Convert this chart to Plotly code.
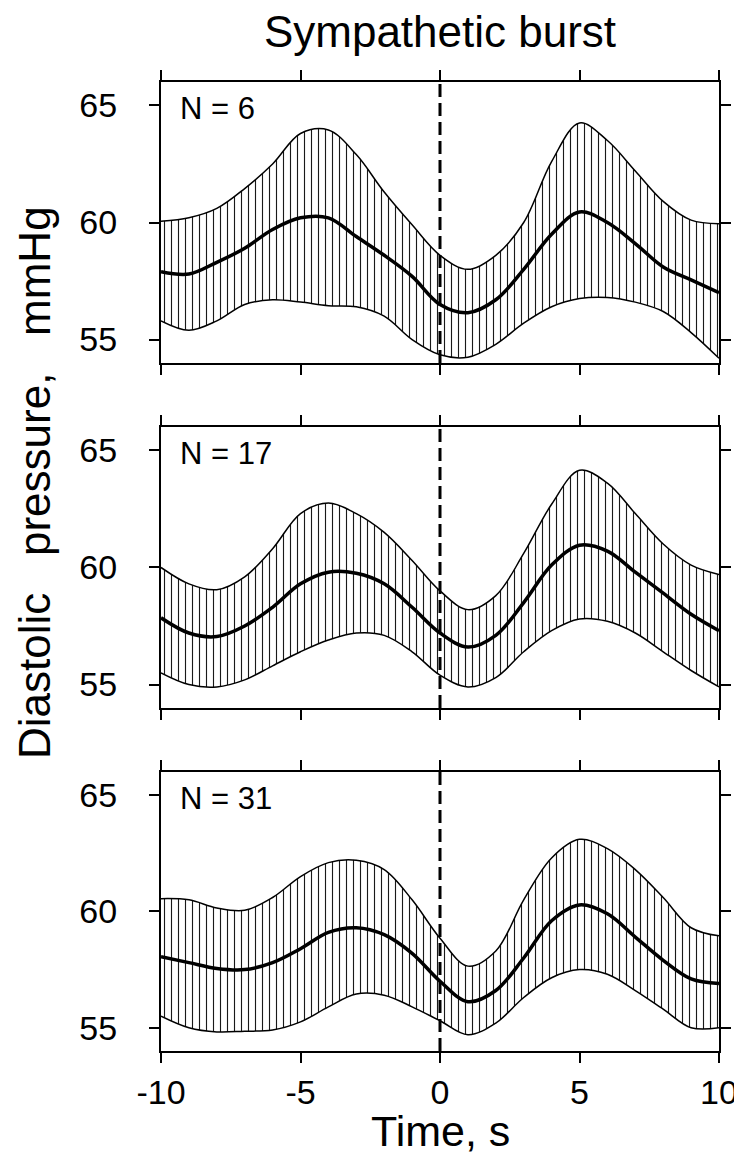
import plotly.graph_objects as go
from plotly.subplots import make_subplots

# ---- data ----
time_s = [-10, -9, -8, -7, -6, -5, -4, -3, -2, -1, 0, 1, 2, 3, 4, 5, 6, 7, 8, 9, 10]

n_labels = ["N = 6", "N = 17", "N = 31"]

mean_p1 = [57.9, 57.8, 58.3, 58.9, 59.7, 60.2, 60.2, 59.4, 58.6, 57.7, 56.5, 56.15, 56.7, 58.0, 59.5, 60.45, 60.0, 59.1, 58.1, 57.55, 57.0]
upper_p1 = [60.05, 60.2, 60.6, 61.45, 62.5, 63.8, 63.95, 62.9, 61.3, 59.9, 58.6, 58.0, 58.6, 60.0, 62.6, 64.25, 63.5, 62.2, 60.9, 60.1, 59.95]
lower_p1 = [55.8, 55.4, 55.8, 56.5, 56.7, 56.6, 56.45, 56.4, 56.0, 55.0, 54.35, 54.25, 54.8, 55.7, 56.4, 56.75, 56.8, 56.6, 56.2, 55.3, 54.2]

mean_p2 = [57.85, 57.2, 57.05, 57.5, 58.3, 59.3, 59.8, 59.75, 59.3, 58.3, 57.2, 56.6, 57.1, 58.5, 60.1, 60.95, 60.7, 59.8, 58.9, 58.0, 57.3]
upper_p2 = [60.0, 59.3, 59.05, 59.6, 60.8, 62.3, 62.75, 62.3, 61.5, 60.3, 59.0, 58.2, 58.8, 60.6, 62.7, 64.15, 63.6, 62.3, 61.0, 60.1, 59.7]
lower_p2 = [55.5, 55.0, 54.9, 55.2, 55.8, 56.4, 56.9, 57.2, 57.1, 56.4, 55.4, 54.9, 55.3, 56.4, 57.3, 57.8, 57.7, 57.2, 56.4, 55.6, 54.9]

mean_p3 = [58.05, 57.8, 57.55, 57.5, 57.8, 58.4, 59.1, 59.3, 59.0, 58.2, 57.0, 56.12, 56.6, 58.0, 59.6, 60.28, 59.9, 58.9, 57.9, 57.1, 56.9]
upper_p3 = [60.55, 60.5, 60.15, 60.05, 60.6, 61.5, 62.1, 62.2, 61.8, 60.5, 58.85, 57.65, 58.3, 60.5, 62.3, 63.1, 62.7, 61.8, 60.6, 59.3, 58.95]
lower_p3 = [55.5, 55.0, 54.82, 54.85, 54.9, 55.25, 55.9, 56.45, 56.4, 55.9, 55.3, 54.7, 55.2, 56.3, 57.15, 57.5, 57.3, 56.6, 55.8, 55.0, 55.0]

means = [mean_p1, mean_p2, mean_p3]
uppers = [upper_p1, upper_p2, upper_p3]
lowers = [lower_p1, lower_p2, lower_p3]

burst_time = 0
x_ticks = [-10, -5, 0, 5, 10]
x_tick_text = ["-10", "-5", "0", "5", "10"]
y_ticks = [55, 60, 65]
x_range = [-10, 10]
y_range = [54, 66]

FONT = "Liberation Sans, Arial, sans-serif"

fig = make_subplots(rows=3, cols=1, vertical_spacing=0.06)

domains = [[0.710, 1.0], [0.354, 0.644], [0.0, 0.288]]

for i in range(3):
    r = i + 1
    fig.add_trace(go.Scatter(x=time_s, y=lowers[i], mode="lines",
                             line=dict(color="black", width=1.5, shape="spline", smoothing=1.0),
                             showlegend=False, hoverinfo="skip"), row=r, col=1)
    fig.add_trace(go.Scatter(x=time_s, y=uppers[i], mode="lines",
                             line=dict(color="black", width=1.5, shape="spline", smoothing=1.0),
                             fill="tonexty", fillcolor="rgba(0,0,0,0)",
                             fillpattern=dict(shape="|", size=7, solidity=0.16,
                                              fgcolor="black", bgcolor="white", fgopacity=0.9),
                             showlegend=False, hoverinfo="skip"), row=r, col=1)
    fig.add_trace(go.Scatter(x=time_s, y=means[i], mode="lines",
                             line=dict(color="black", width=3.5, shape="spline", smoothing=1.0),
                             showlegend=False), row=r, col=1)
    fig.add_vline(x=burst_time, line=dict(color="black", width=3, dash="13px,6px"), row=r, col=1)

    xa = "xaxis" if i == 0 else f"xaxis{r}"
    ya = "yaxis" if i == 0 else f"yaxis{r}"
    fig.layout[xa].update(range=x_range, tickvals=x_ticks, ticktext=x_tick_text,
                          showticklabels=(i == 2),
                          ticks="outside", ticklen=10, tickwidth=2, tickcolor="black",
                          showline=True, linewidth=2, linecolor="black", mirror="ticks",
                          showgrid=False, zeroline=False,
                          tickfont=dict(size=34, color="black", family=FONT),
                          ticklabelstandoff=0)
    fig.layout[ya].update(range=y_range, tickvals=y_ticks, domain=domains[i],
                          ticks="outside", ticklen=10, tickwidth=2, tickcolor="black",
                          showline=True, linewidth=2, linecolor="black", mirror="ticks",
                          showgrid=False, zeroline=False,
                          tickfont=dict(size=34, color="black", family=FONT),
                          ticklabelstandoff=25)
    xref = "x domain" if i == 0 else f"x{r} domain"
    yref = "y domain" if i == 0 else f"y{r} domain"
    fig.add_annotation(text=n_labels[i], xref=xref, yref=yref, x=0.03, y=0.905,
                       xanchor="left", yanchor="middle", showarrow=False,
                       font=dict(size=31, color="black", family=FONT))

sp = "\u00a0" * 3
fig.add_annotation(text=f"Diastolic{sp}pressure,{sp}mmHg", xref="paper", yref="paper",
                   x=-0.228, y=0.587, xanchor="center", yanchor="middle", textangle=-90,
                   showarrow=False, font=dict(size=44, color="black", family=FONT))
fig.add_annotation(text="Time, s", xref="paper", yref="paper", x=0.5, y=-0.083,
                   xanchor="center", yanchor="middle", showarrow=False,
                   font=dict(size=43, color="black", family=FONT))

fig.update_layout(
    width=742, height=1157,
    margin=dict(l=153, r=18, t=74, b=114),
    paper_bgcolor="white", plot_bgcolor="white",
    title=dict(text="Sympathetic burst", x=0.5, xref="paper", xanchor="center",
               y=1 - 24 / 1157, yref="container", yanchor="middle",
               font=dict(size=44, color="black", family=FONT)),
    showlegend=False,
)

fig.write_html("out.html")
